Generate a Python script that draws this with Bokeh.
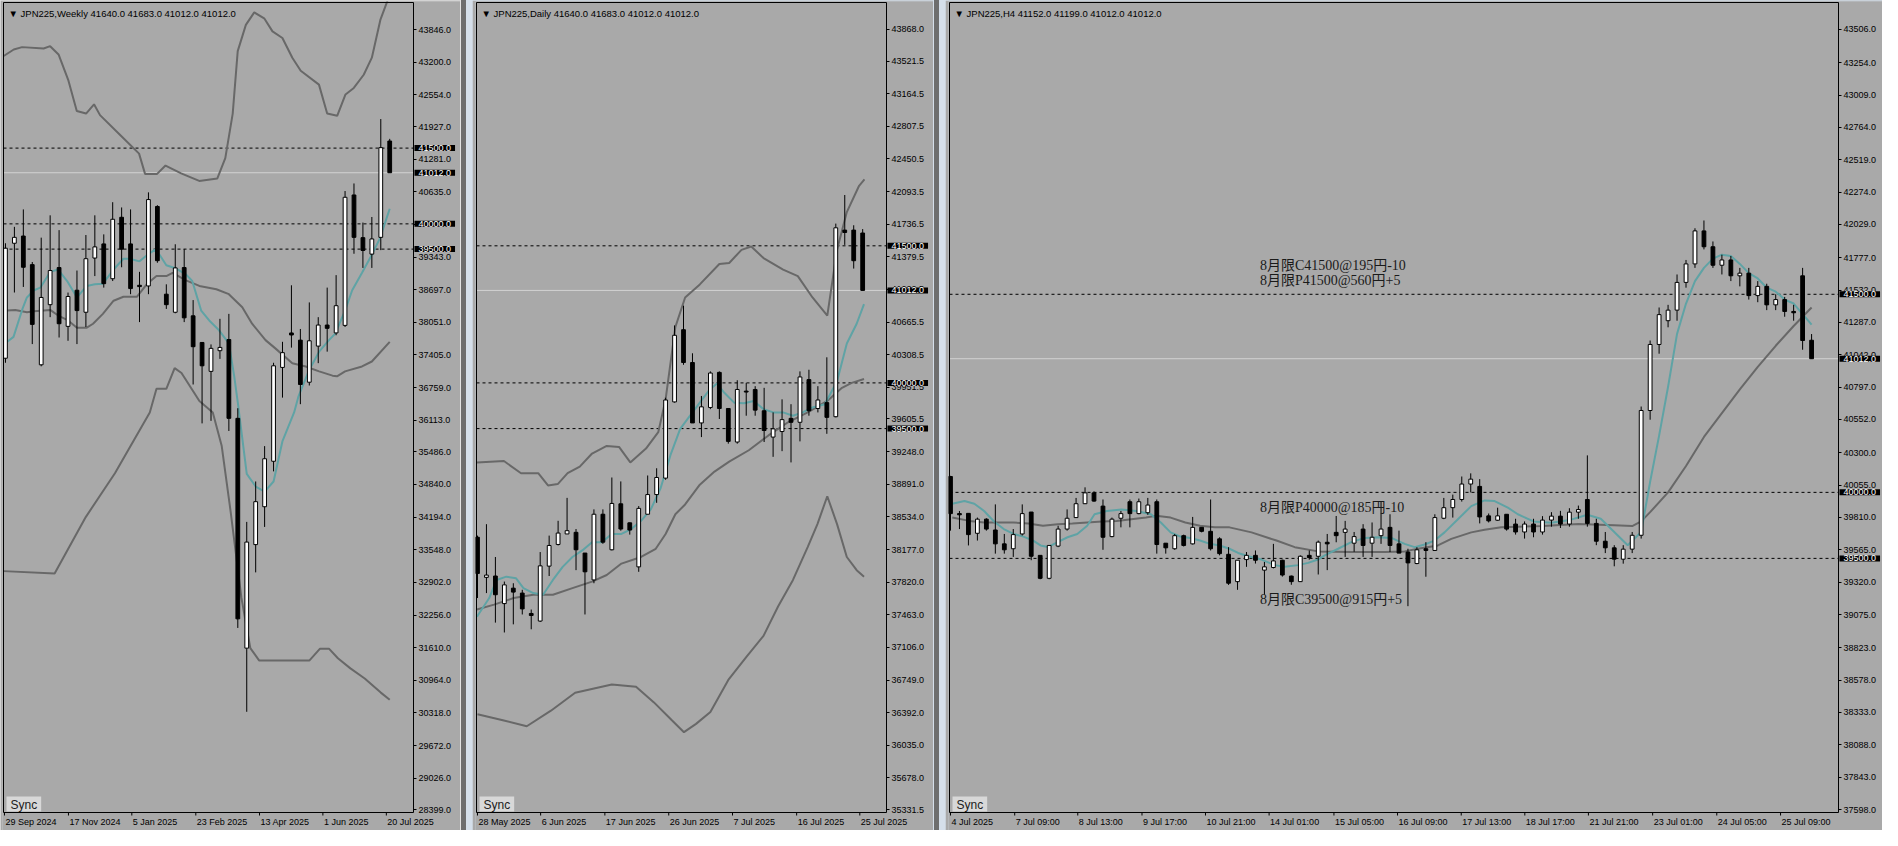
from bokeh.plotting import figure
from bokeh.models import ColumnDataSource, FixedTicker, NumeralTickFormatter, Label, Range1d
from bokeh.layouts import row
from bokeh.embed import file_html
from bokeh.resources import INLINE
from bokeh.core.properties import value

# ===================== WEEKLY =====================
w_open = [37340, 39616, 39759, 39193, 37210, 38400, 39135, 37971, 38686, 38250, 39323, 39603, 38914, 40130, 39603,
          38784, 38771, 40344, 38608, 38250, 39135, 38179, 37652, 37080, 37489, 37710, 36150, 31600, 33650, 34400,
          35300, 37158, 37840, 37698, 36865, 37580, 37997, 37841, 37990, 40572, 39727, 39401, 39733, 41640]
w_high = [39616, 39941, 40286, 39245, 39727, 40169, 39876, 38640, 39076, 39779, 40169, 39792, 40429, 40325, 40286,
          39050, 40624, 40370, 38803, 39596, 39499, 38491, 37660, 37613, 38120, 38218, 36350, 34100, 34900, 35600,
          37250, 37665, 38784, 37919, 38445, 38153, 38738, 38985, 40650, 40800, 40026, 40136, 42075, 41683]
w_low = [37250, 38641, 38751, 37620, 37180, 38153, 37750, 37685, 37620, 37958, 38966, 38738, 38868, 39141, 38608,
         38055, 38608, 39230, 38316, 38230, 38055, 36820, 36050, 36100, 37327, 35900, 32000, 30340, 33100, 34000,
         35100, 36560, 37550, 36430, 36800, 37242, 37470, 37795, 37958, 39408, 39128, 39128, 39480, 41012]
w_close = [39518, 39733, 39141, 38010, 38543, 39076, 38023, 38562, 38283, 39310, 39544, 38816, 40091, 39499, 38719,
           38758, 40481, 39271, 38400, 39128, 38140, 37568, 37190, 37535, 37554, 36150, 32180, 33700, 34500, 35350,
           37190, 37450, 37800, 36820, 37685, 37997, 37932, 38380, 40526, 39733, 39473, 39701, 41509, 41012]

w_ma_x = [0.2, 0.9, 1.9, 2.4, 3.2, 3.9, 4.6, 5.0, 5.9, 6.9, 8.0, 9.1, 10.0, 10.9, 12.1, 13.2, 13.9, 15.0, 15.9, 16.7,
          17.3, 18.0, 19.1, 20.2, 20.9, 21.9, 22.8, 23.9, 25.0, 25.6, 26.0, 27.0, 28.0, 29.0, 30.0, 31.0, 32.3, 32.8,
          34.0, 35.1, 36.2, 36.9, 38.0, 38.8, 39.9, 41.0, 41.9, 43.0]
w_ma_y = [37665, 37763, 38315, 38543, 38686, 38738, 38933, 39050, 39096, 38868, 38543, 38771, 38803, 38816, 39096,
          39310, 39310, 39258, 39388, 39486, 39375, 39180, 39115, 39000, 38868, 38283, 38088, 37893, 37633, 36982,
          36462, 35050, 34800, 34700, 34900, 35700, 36267, 36592, 37112, 37470, 37698, 37828, 38283, 38686, 39031,
          39388, 39713, 40299]
w_mid_x = [0.2, 1.1, 2.4, 3.2, 5.0, 5.9, 6.9, 8.0, 9.1, 9.8, 10.9, 12.1, 13.2, 14.7, 15.8, 16.9, 18.0, 18.7, 20.2,
           21.7, 23.6, 25.0, 26.5, 27.6, 29.1, 30.2, 32.1, 33.6, 35.1, 36.6, 37.1, 38.0, 39.9, 41.0, 43.0]
w_mid_y = [38283, 38296, 38250, 38270, 38296, 38185, 38100, 37945, 37945, 38023, 38218, 38478, 38556, 38556, 38803,
           38966, 38966, 39031, 38881, 38771, 38706, 38608, 38348, 38023, 37698, 37535, 37242, 37177, 37080, 36995,
           36982, 37080, 37177, 37275, 37665]
w_up_x = [-0.2, 0.93, 1.86, 4.27, 5.0, 5.94, 7.05, 7.98, 9.02, 9.91, 10.58, 12.92, 14.95, 15.62, 16.97, 17.91, 19.66,
          21.68, 23.71, 24.6, 25.43, 25.99, 26.9, 27.84, 28.95, 29.88, 30.99, 32.1, 33.04, 35.08, 36.0, 37.12, 38.05,
          38.98, 40.09, 41.0, 41.95, 42.7, 43.0]
w_up_y = [43323, 43452, 43499, 43471, 43518, 43354, 42835, 42236, 42184, 42367, 42153, 41745, 41390, 40989, 40989,
          41154, 41000, 40850, 40900, 41300, 42184, 43420, 43940, 44187, 44070, 43811, 43680, 43290, 43030, 42757,
          42184, 42139, 42562, 42691, 42952, 43290, 44037, 44396, 44600]
w_lo_x = [-0.2, 5.5, 9.0, 12.25, 16.15, 16.9, 18.0, 18.93, 19.7, 21.7, 23.2, 24.2, 25.2, 26.4, 27.4, 28.4, 31.5,
          34.0, 35.2, 36.2, 37.2, 38.6, 40.2, 42.0, 43.0]
w_lo_y = [33125, 33078, 34200, 35062, 36267, 36735, 36735, 37145, 37047, 36494, 36267, 35600, 34300, 32600, 31600,
          31354, 31354, 31354, 31590, 31590, 31400, 31200, 31000, 30720, 30580]
w_yticks = [43846, 43200, 42554, 41927, 41281, 40635, 39989, 39343, 38697, 38051, 37405, 36759, 36113, 35486, 34840,
            34194, 33548, 32902, 32256, 31610, 30964, 30318, 29672, 29026, 28399]
w_tick_pos = [-0.11, 7.05, 14.14, 21.3, 28.43, 35.52, 42.62]
w_tick_lbl = ["29 Sep 2024", "17 Nov 2024", "5 Jan 2025", "23 Feb 2025", "13 Apr 2025", "1 Jun 2025", "20 Jul 2025"]

# ===================== DAILY =====================
d_open = [38311, 37872, 37887, 37585, 37754, 37700, 37477, 37394, 37995, 38232, 38347, 38365, 38138, 37844, 38563,
          38174, 38677, 38469, 37987, 38563, 38778, 38958, 39792, 40582, 40223, 39562, 39731, 40115, 39720, 39353,
          39910, 39928, 39695, 39407, 39468, 39612, 39569, 40036, 39720, 39784, 39630, 41672, 41672, 41640]
d_high = [38329, 38454, 38095, 37826, 37808, 37736, 37520, 38149, 38329, 38491, 38742, 38401, 38138, 38616, 38616,
          38965, 38922, 38472, 38652, 38987, 39066, 39838, 40629, 40845, 40324, 39857, 40126, 40126, 39720, 40029,
          40000, 39964, 39946, 39677, 39820, 39767, 40126, 40144, 39964, 40280, 41743, 42056, 41725, 41683]
d_low = [37646, 37700, 37377, 37269, 37358, 37466, 37304, 37384, 37887, 38221, 38347, 37951, 37466, 37808, 38239,
         38167, 38383, 38340, 37933, 38563, 38688, 38940, 39784, 40198, 39562, 39407, 39713, 39605, 39335, 39335,
         39641, 39641, 39353, 39191, 39253, 39130, 39360, 39641, 39677, 39443, 39623, 41510, 41251, 41012]
d_close = [37915, 37897, 37682, 37790, 37711, 37527, 37455, 37998, 38221, 38357, 38383, 38174, 37933, 38563, 38257,
           38681, 38401, 38390, 38627, 38778, 38965, 39813, 40521, 40223, 39562, 39738, 40108, 39720, 39360, 39928,
           39900, 39702, 39479, 39497, 39598, 39569, 40065, 39695, 39813, 39623, 41697, 41646, 41337, 41012]

d_ma_x = [-0.06, 1.31, 2.13, 3.22, 4.31, 5.13, 6.23, 7.32, 8.42, 9.51, 10.6, 11.7, 12.79, 13.89, 14.98, 16.07, 17.17,
          18.26, 19.35, 20.45, 21.54, 22.63, 23.73, 24.82, 25.92, 26.74, 27.56, 28.65, 29.75, 30.84, 31.93, 33.03,
          34.12, 35.22, 36.31, 37.4, 38.77, 40.14, 41.23, 42.33, 43.15]
d_ma_y = [37441, 37646, 37844, 37880, 37862, 37754, 37700, 37682, 37844, 37987, 38095, 38167, 38257, 38257, 38347,
          38347, 38401, 38491, 38616, 38850, 39209, 39497, 39641, 39784, 39928, 39993, 39892, 39784, 39777, 39802,
          39713, 39677, 39677, 39641, 39677, 39731, 39767, 40018, 40431, 40647, 40863]
d_mid_x = [-0.06, 1.85, 4.04, 6.23, 8.42, 10.6, 12.79, 14.43, 16.07, 18.26, 19.9, 21.0, 22.09, 23.18, 24.82, 26.46,
           28.1, 30.29, 32.48, 34.67, 36.86, 39.05, 40.69, 41.78, 43.15]
d_mid_y = [37520, 37574, 37646, 37682, 37682, 37754, 37826, 37898, 38023, 38095, 38185, 38347, 38563, 38670, 38886,
           39030, 39138, 39263, 39425, 39569, 39677, 39803, 39946, 40000, 40043]
d_up_x = [-0.06, 2.95, 4.86, 6.78, 7.87, 8.96, 10.06, 11.42, 12.79, 14.43, 15.8, 17.06, 18.81, 20.18, 21.0, 22.09,
          23.18, 24.82, 27.0, 28.1, 29.47, 30.56, 31.93, 34.12, 35.76, 37.4, 39.05, 40.14, 41.23, 42.6, 43.2]
d_up_y = [39130, 39145, 39012, 39012, 38878, 38893, 39012, 39084, 39227, 39310, 39299, 39130, 39281, 39461, 39820,
          40611, 40935, 41078, 41301, 41312, 41456, 41492, 41366, 41240, 41168, 40935, 40737, 41456, 41869, 42157,
          42227]
d_lo_x = [0, 2.83, 5.5, 8.2, 10.9, 15.0, 17.7, 19.7, 21.7, 23.05, 24.4, 26.0, 28.0, 30.0, 31.93, 33.57, 35.22, 36.86,
          37.95, 39.05, 40.14, 41.23, 42.33, 43.15]
d_lo_y = [36374, 36308, 36243, 36413, 36609, 36700, 36674, 36504, 36308, 36178, 36269, 36400, 36750, 37000, 37232,
          37556, 37844, 38203, 38455, 38760, 38455, 38095, 37951, 37880]
d_yticks = [43868.0, 43521.5, 43164.5, 42807.5, 42450.5, 42093.5, 41736.5, 41379.5, 41022.5, 40665.5, 40308.5,
            39951.5, 39605.5, 39248.0, 38891.0, 38534.0, 38177.0, 37820.0, 37463.0, 37106.0, 36749.0, 36392.0,
            36035.0, 35678.0, 35331.5]
d_tick_pos = [0, 7.05, 14.22, 21.35, 28.47, 35.63, 42.68]
d_tick_lbl = ["28 May 2025", "6 Jun 2025", "17 Jun 2025", "26 Jun 2025", "7 Jul 2025", "16 Jul 2025", "25 Jul 2025"]

# ===================== H4 =====================
h_open = [40120, 39839, 39841, 39690, 39797, 39715, 39610, 39573, 39685, 39851, 39523, 39349, 39593, 39722, 39809,
          39914, 39996, 39896, 39665, 39804, 39929, 39839, 39846, 39929, 39615, 39573, 39672, 39610, 39735, 39705,
          39648, 39531, 39324, 39491, 39523, 39411, 39431, 39486, 39366, 39324, 39523, 39516, 39622, 39697, 39697,
          39615, 39722, 39615, 39672, 39735, 39610, 39548, 39461, 39573, 39560, 39804, 39884, 39946, 40063, 40045,
          39822, 39789, 39834, 39760, 39700, 39760, 39700, 39790, 39820, 39760, 39850, 39946, 39765, 39630, 39580,
          39494, 39570, 39675, 40620, 41120, 41300, 41380, 41590, 41730, 41980, 41860, 41720, 41760, 41640, 41660,
          41490, 41560, 41420, 41460, 41370, 41640, 41152]
h_high = [40125, 39859, 39841, 39809, 39804, 39909, 39685, 39722, 39909, 39851, 39523, 39598, 39747, 39871, 39958,
          40038, 40008, 39946, 39809, 39859, 39946, 39953, 39958, 39946, 39615, 39685, 39680, 39814, 39735, 39946,
          39660, 39585, 39486, 39548, 39560, 39473, 39610, 39490, 39370, 39523, 39560, 39635, 39685, 39821, 39784,
          39700, 39759, 39772, 39930, 39834, 39710, 39573, 39585, 39623, 39834, 39958, 39983, 40120, 40144, 40100,
          39840, 39884, 39834, 39800, 39780, 39800, 39820, 39850, 39860, 39880, 39900, 40280, 39800, 39700, 39600,
          39600, 39700, 40650, 41150, 41400, 41420, 41650, 41760, 42000, 42059, 41900, 41800, 41790, 41700, 41700,
          41600, 41580, 41500, 41480, 41420, 41700, 41199]
h_low = [39710, 39722, 39598, 39635, 39710, 39536, 39536, 39511, 39673, 39486, 39342, 39342, 39585, 39710, 39809,
         39914, 39929, 39565, 39660, 39735, 39735, 39834, 39830, 39536, 39536, 39565, 39590, 39605, 39697, 39560,
         39523, 39299, 39262, 39436, 39461, 39225, 39424, 39362, 39300, 39324, 39490, 39378, 39411, 39622, 39511,
         39550, 39511, 39511, 39610, 39548, 39540, 39138, 39456, 39361, 39556, 39797, 39809, 39930, 40000, 39765,
         39772, 39784, 39710, 39680, 39650, 39660, 39680, 39740, 39730, 39740, 39800, 39740, 39600, 39540, 39440,
         39460, 39540, 39650, 40550, 41050, 41250, 41300, 41550, 41700, 41840, 41700, 41650, 41600, 41560, 41460,
         41440, 41380, 41380, 41330, 41300, 41080, 41012]
h_close = [39839, 39830, 39680, 39797, 39722, 39610, 39565, 39680, 39839, 39516, 39349, 39598, 39722, 39804, 39914,
           39996, 39934, 39660, 39797, 39839, 39839, 39929, 39904, 39605, 39580, 39672, 39598, 39735, 39705, 39573,
           39536, 39312, 39486, 39523, 39486, 39436, 39481, 39374, 39324, 39516, 39506, 39623, 39610, 39672, 39722,
           39665, 39598, 39660, 39722, 39598, 39540, 39466, 39565, 39560, 39809, 39884, 39946, 40063, 40100, 39814,
           39784, 39822, 39722, 39700, 39760, 39700, 39790, 39820, 39760, 39850, 39870, 39765, 39630, 39580, 39494,
           39570, 39675, 40620, 41120, 41346, 41380, 41590, 41730, 41980, 41860, 41720, 41760, 41640, 41660, 41490,
           41560, 41420, 41460, 41370, 41360, 41150, 41012]

h_ma_x = [0.2, 1.56, 2.66, 3.75, 4.85, 5.94, 7.03, 8.13, 9.22, 10.04, 10.86, 11.95, 13.05, 14.14, 15.24, 16.06, 17.43,
          19.07, 20.71, 22.35, 23.45, 24.54, 25.63, 26.73, 27.82, 28.92, 30.01, 31.1, 32.07, 33.18, 34.67, 36.15,
          37.27, 38.75, 39.87, 40.98, 41.72, 43.21, 44.69, 46.18, 47.66, 49.15, 50.63, 51.74, 52.86, 53.97, 55.08,
          56.57, 58.06, 59.54, 60.66, 62.14, 63.25, 65, 67, 69, 71, 72.5, 74, 75.5, 77, 78, 79, 80, 81, 82, 83, 84,
          85, 86, 87, 88, 89, 90, 91, 92, 93, 94, 95, 96]
h_ma_y = [39914, 39934, 39914, 39859, 39779, 39722, 39685, 39665, 39635, 39598, 39586, 39623, 39660, 39685, 39747,
          39834, 39859, 39871, 39859, 39834, 39772, 39697, 39665, 39655, 39635, 39610, 39598, 39573, 39541, 39516,
          39491, 39449, 39436, 39449, 39466, 39491, 39523, 39573, 39623, 39655, 39660, 39655, 39610, 39585, 39605,
          39635, 39697, 39797, 39896, 39939, 39934, 39884, 39834, 39780, 39770, 39790, 39830, 39800, 39700, 39600,
          39700, 40080, 40430, 40800, 41200, 41430, 41600, 41700, 41770, 41800, 41790, 41730, 41660, 41620, 41550,
          41520, 41460, 41430, 41350, 41270]
h_slow_x = [0.2, 2.11, 3.75, 5.39, 7.03, 8.67, 10.31, 11.95, 13.59, 15.24, 16.88, 18.52, 20.16, 21.8, 22.9, 24.54,
            26.18, 27.82, 29.46, 31.1, 33.56, 36.34, 38.38, 40.98, 44.69, 48.4, 50.63, 52.11, 54.34, 55.83, 58.06,
            59.54, 61.4, 63.25, 66, 70, 74, 76, 77, 78, 80, 82, 84, 86, 88, 90, 92, 94, 96]
h_slow_y = [39809, 39784, 39772, 39772, 39772, 39764, 39747, 39759, 39764, 39772, 39779, 39784, 39797, 39809, 39822,
            39809, 39772, 39747, 39735, 39735, 39697, 39635, 39585, 39553, 39548, 39548, 39553, 39573, 39598, 39648,
            39697, 39717, 39735, 39740, 39745, 39760, 39750, 39745, 39780, 39850, 40000, 40200, 40420, 40600, 40780,
            40950, 41110, 41260, 41400]
h_yticks = [43506, 43254, 43009, 42764, 42519, 42274, 42029, 41777, 41532, 41287, 41042, 40797, 40552, 40300, 40055,
            39810, 39565, 39320, 39075, 38823, 38578, 38333, 38088, 37843, 37598]
h_tick_pos = [0, 7.16, 14.19, 21.35, 28.43, 35.52, 42.75, 49.84, 56.94, 64.03, 71.12, 78.28, 85.43, 92.54]
h_tick_lbl = ["4 Jul 2025", "7 Jul 09:00", "8 Jul 13:00", "9 Jul 17:00", "10 Jul 21:00", "14 Jul 01:00",
              "15 Jul 05:00", "16 Jul 09:00", "17 Jul 13:00", "18 Jul 17:00", "21 Jul 21:00", "23 Jul 01:00",
              "24 Jul 05:00", "25 Jul 09:00"]

# option notes on the H4 chart (text + the price level each refers to)
ann_text = ["8月限C41500@195円-10", "8月限P41500@560円+5", "8月限P40000@185円-10", "8月限C39500@915円+5"]
ann_level = [41500, 41500, 40000, 39500]
ann_bar = 34.5

# horizontal levels
levels = [41500, 40000, 39500]
level_lbl = ["41500.0", "40000.0", "39500.0"]
last_price = 41012
last_lbl = "41012.0"

headers = ["JPN225,Weekly  41640.0 41683.0 41012.0 41012.0",
           "JPN225,Daily  41640.0 41683.0 41012.0 41012.0",
           "JPN225,H4  41152.0 41199.0 41012.0 41012.0"]

# ===================== styling / layout =====================
BG = "#A9A9A9"
TEAL = "#5FA3A5"
DGRAY = "#686868"
FONT = "Liberation Sans"
H = 830          # figure height
CH = 810         # chart (inner frame) height in px
BOT = 18         # date-label strip height in px


def panel(lb, cw, la, xr, yr, o, hi, lo, c, lines, yticks, tpos, tlbl, header):
    """lb: left border px, cw: chart width px, la: price-label strip width px."""
    ppb = cw / (xr[1] - xr[0])
    ppy = CH / (yr[1] - yr[0])
    x_lo, x_hi = xr[0] - 1.0 / ppb, xr[1] + la / ppb
    y_lo, y_hi = yr[0] - BOT / ppy, yr[1] + 1.0 / ppy
    p = figure(width=lb + 1 + cw + la, height=H, x_range=Range1d(x_lo, x_hi), y_range=Range1d(y_lo, y_hi),
               y_axis_location="right", x_axis_location=None, toolbar_location=None,
               output_backend="svg", min_border_left=lb, min_border_right=0,
               min_border_top=1, min_border_bottom=0,
               background_fill_color=BG, border_fill_color=BG, outline_line_color=None)
    p.grid.visible = False

    # price axis, drawn at the right edge of the chart frame
    ax = p.yaxis[0]
    ax.fixed_location = xr[1]
    ax.ticker = FixedTicker(ticks=yticks)
    ax.formatter = NumeralTickFormatter(format="0.0")
    ax.major_label_text_font = FONT
    ax.major_label_text_font_size = "9px"
    ax.major_label_text_color = "black"
    ax.major_tick_out = 3
    ax.major_tick_in = 0
    ax.minor_tick_out = 0
    ax.minor_tick_in = 0
    ax.major_tick_line_color = "black"
    ax.axis_line_color = None
    ax.major_label_standoff = 2

    # horizontal levels (under candles)
    n = len(levels)
    p.segment(x0=[xr[0]] * n, x1=[xr[1]] * n, y0=levels, y1=levels, line_color="black",
              line_dash="3 3", line_width=1, level="underlay")
    p.segment(x0=[xr[0]], x1=[xr[1]], y0=[last_price], y1=[last_price], line_color="#D2D2D2",
              line_width=1, level="underlay")

    # indicator lines
    for (lx, ly, col) in lines:
        p.line(lx, ly, line_color=col, line_width=2)

    idx = list(range(len(o)))
    src = ColumnDataSource(dict(
        x=idx, hi=hi, lo=lo,
        top=[max(a, b) for a, b in zip(o, c)],
        bot=[min(a, b) for a, b in zip(o, c)],
        fill=["white" if cc >= oo else "black" for oo, cc in zip(o, c)]))
    p.segment(x0="x", y0="lo", x1="x", y1="hi", source=src, line_color="black", line_width=1)
    p.vbar(x="x", width=0.42, top="top", bottom="bot", source=src,
           fill_color="fill", line_color="black", line_width=1)

    # chart frame
    p.segment(x0=[xr[0], xr[0], xr[0], xr[1]], y0=[yr[0], yr[1], yr[0], yr[0]],
              x1=[xr[1], xr[1], xr[0], xr[1]], y1=[yr[0], yr[1], yr[1], yr[1]],
              line_color="black", line_width=1)

    # time axis: tick marks + left-aligned date labels
    m = len(tpos)
    p.segment(x0=tpos, x1=tpos, y0=[yr[0]] * m, y1=[yr[0] - 3.0 / ppy] * m, line_color="black", line_width=1)
    p.text(x=tpos, y=[yr[0]] * m, text=tlbl, x_offset=1, y_offset=4, text_align="left", text_baseline="top",
           text_color="black", text_font=value(FONT), text_font_size="9px")

    # price tags on the price axis
    for lv, t in list(zip(levels, level_lbl)) + [(last_price, last_lbl)]:
        p.add_layout(Label(x=xr[1], y=lv, x_offset=1, text=t, text_align="left",
                           text_baseline="middle", text_color="white", text_font=FONT,
                           text_font_size="9px", background_fill_color="black",
                           padding=dict(left=4, right=4, top=0, bottom=0), level="overlay"))

    # header
    p.add_layout(Label(x=xr[0], y=yr[1], x_offset=5, y_offset=-5, text="\u25BC " + header,
                       text_align="left", text_baseline="top", text_color="black",
                       text_font=FONT, text_font_size="9.5px", level="overlay"))
    # Sync button
    p.add_layout(Label(x=xr[0], y=yr[0], x_offset=3, y_offset=1, text="Sync",
                       text_align="left", text_baseline="bottom", text_color="#202020",
                       text_font=FONT, text_font_size="12px",
                       background_fill_color="#D8D8D8",
                       padding=dict(left=4, right=4, top=1, bottom=0), level="overlay"))
    return p


p1 = panel(2, 410, 47, (-0.22, 45.66), (28346.3, 44382.5), w_open, w_high, w_low, w_close,
           [(w_up_x, w_up_y, DGRAY), (w_lo_x, w_lo_y, DGRAY), (w_mid_x, w_mid_y, DGRAY), (w_ma_x, w_ma_y, TEAL)],
           w_yticks, w_tick_pos, w_tick_lbl, headers[0])
p2 = panel(3, 410, 47, (-0.11, 45.66), (35299.2, 44162.4), d_open, d_high, d_low, d_close,
           [(d_up_x, d_up_y, DGRAY), (d_lo_x, d_lo_y, DGRAY), (d_mid_x, d_mid_y, DGRAY), (d_ma_x, d_ma_y, TEAL)],
           d_yticks, d_tick_pos, d_tick_lbl, headers[1])
p3 = panel(3, 889, 44, (-0.11, 99.0), (37575.6, 43709.7), h_open, h_high, h_low, h_close,
           [(h_slow_x, h_slow_y, DGRAY), (h_ma_x, h_ma_y, TEAL)],
           h_yticks, h_tick_pos, h_tick_lbl, headers[2])

# option notes on H4 (pixel offsets from their level line)
ann_dy = [29, 14, -15, -41]
p3.text(x=[ann_bar] * len(ann_text), y=ann_level, text=ann_text, y_offset=[-d for d in ann_dy],
        text_align="left", text_baseline="middle", text_color="#1A1A1A",
        text_font=value("Liberation Serif, Noto Sans CJK JP"), text_font_size="14px")

# window separators: a dark splitter strip followed by a light-blue strip
sep_bg = ("linear-gradient(to right, #E2E2E2 0px 461px, #6E6E6E 461px 466px, #D5DFEA 466px 934px, "
          "#6E6E6E 934px 939px, #D5DFEA 939px 100%)")
layout = row(p1, p2, p3, spacing=12, styles={"background": sep_bg})
open("out.html", "w").write(file_html(layout, INLINE))
